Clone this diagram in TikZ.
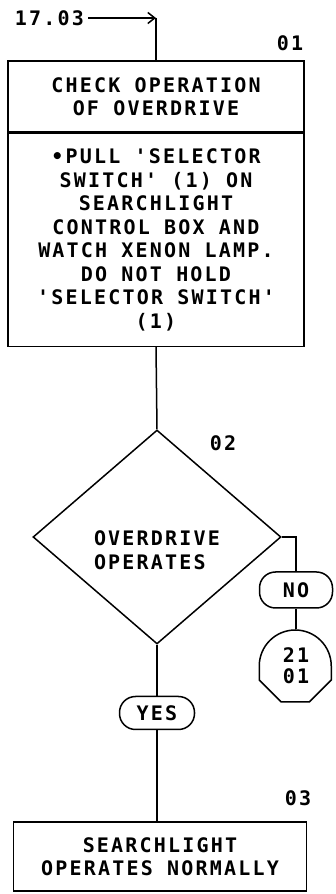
\documentclass[tikz,border=0pt]{standalone}
\usepackage{fontspec}
\usepackage{tikz}
\usetikzlibrary{shapes.geometric, arrows.meta, positioning}
\newfontfamily\plotfont{DejaVu Sans Mono}[LetterSpace=11]

\begin{document}
\begin{tikzpicture}[x=1pt,y=1pt, line width=1.5pt,
    every node/.style={font=\fontsize{20}{23.5}\selectfont\plotfont\bfseries},
    stepbox/.style={draw, align=center, inner sep=0pt},
    pill/.style={draw, rounded corners=16pt, inner sep=0pt},
    stepnum/.style={font=\fontsize{20}{21}\selectfont\plotfont\bfseries}]
  \path[use as bounding box] (0,0) rectangle (335,894);

  % entry from 17.03
  \node[anchor=east] (src) at (88,876) {17.03};

  \node[stepbox, minimum width=296pt, minimum height=71pt] (chk) at (156,797.5) {
    CHECK OPERATION\\OF OVERDRIVE};
  \node[stepbox, minimum width=296pt, minimum height=213pt, anchor=north] (pull) at (chk.south) {
    \textbullet PULL 'SELECTOR\\
    SWITCH' (1) ON\\
    SEARCHLIGHT\\
    CONTROL BOX AND\\
    WATCH XENON LAMP.\\
    DO NOT HOLD\\
    'SELECTOR SWITCH'\\
    (1)};
  \node[stepnum] (n01) at (290,851) {01};

  \coordinate (turn) at (src.east -| chk.north);
  \draw[-{Straight Barb[length=7pt,width=11pt]}] (src.east) -- (turn);
  \draw (turn) -- (chk.north);

  % decision
  \node[draw, diamond, minimum width=248pt, minimum height=214pt, inner sep=0pt] (ovd) at (157,357) {};
  \node[align=left] (ovdtxt) at (157,344) {OVERDRIVE\\OPERATES};
  \node[stepnum] (n02) at (223,451) {02};
  \draw (pull.south) -- (ovd.north);

  % no branch
  \node[pill, minimum width=73pt, minimum height=36pt, font=\fontsize{20}{21}\selectfont\plotfont\bfseries] (no) at (296,304) {NO};
  \node[circle, minimum size=72pt, inner sep=0pt, align=center, font=\fontsize{20}{21}\selectfont\plotfont\bfseries] (pg) at (296,228) {21\\01};
  \draw (pg.west) arc[start angle=180, end angle=0, radius=36pt] -- ++(0,-14) -- ++(-22,-22) -- ++(-28,0) -- ++(-22,22) -- cycle;
  \coordinate (nobend) at (no.north |- ovd.east);
  \draw (ovd.east) -- (nobend) -- (no.north);
  \draw (no.south) -- (pg.north);

  % yes branch
  \node[pill, minimum width=75pt, minimum height=33pt, font=\fontsize{20}{21}\selectfont\plotfont\bfseries] (yes) at (157,181) {YES};
  \node[stepbox, minimum width=293pt, minimum height=69pt] (norm) at (160,37.5) {
    SEARCHLIGHT\\OPERATES NORMALLY};
  \node[stepnum] (n03) at (298,96) {03};
  \draw (ovd.south) -- (yes.north);
  \draw (yes.south) -- (yes.south |- norm.north);
\end{tikzpicture}
\end{document}
